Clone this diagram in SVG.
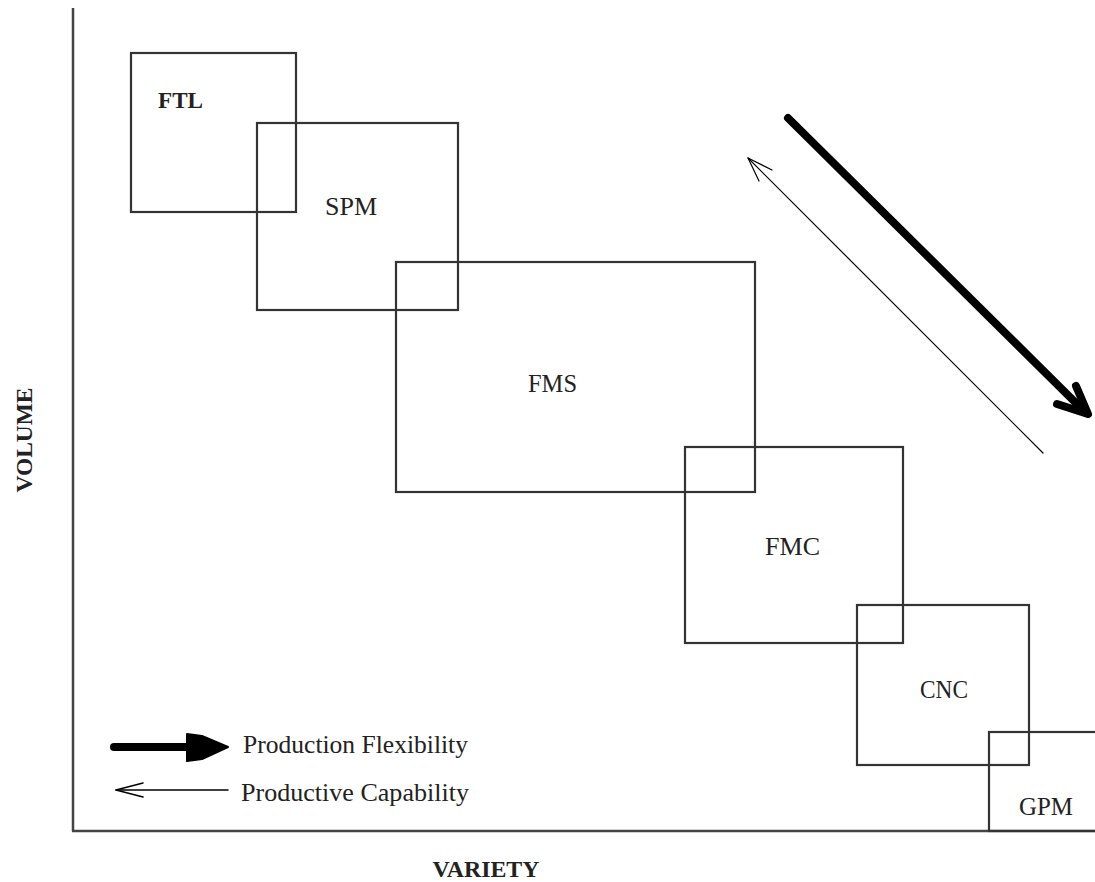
<svg xmlns="http://www.w3.org/2000/svg" width="1095" height="882" viewBox="0 0 1095 882">
<style>
.box{fill:none;stroke:#333;stroke-width:2.2}
.axis{fill:none;stroke:#444;stroke-width:2.5}
.lbl{font-family:"Liberation Serif","Times New Roman",serif;font-size:26px;fill:#222}
.b{font-weight:bold;font-size:24px}
</style>
<rect width="1095" height="882" fill="#fff"/>
<g id="axes">
<line class="axis" x1="73" y1="8" x2="73" y2="831"/>
<line class="axis" x1="72" y1="831" x2="1095" y2="831"/>
<text class="lbl b" x="486" y="877" text-anchor="middle" textLength="107" lengthAdjust="spacingAndGlyphs">VARIETY</text>
<text class="lbl b" transform="translate(32,440) rotate(-90)" text-anchor="middle" textLength="105" lengthAdjust="spacingAndGlyphs">VOLUME</text>
</g>
<g id="FTL"><rect class="box" x="131" y="53" width="165" height="159"/><text class="lbl b" x="158" y="108" textLength="45" lengthAdjust="spacingAndGlyphs">FTL</text></g>
<g id="SPM"><rect class="box" x="257" y="123" width="201" height="187"/><text class="lbl" x="325" y="215" textLength="52" lengthAdjust="spacingAndGlyphs">SPM</text></g>
<g id="FMS"><rect class="box" x="396" y="262" width="359" height="230"/><text class="lbl" x="528" y="392" textLength="49" lengthAdjust="spacingAndGlyphs">FMS</text></g>
<g id="FMC"><rect class="box" x="685" y="447" width="218" height="196"/><text class="lbl" x="765" y="555" textLength="55" lengthAdjust="spacingAndGlyphs">FMC</text></g>
<g id="CNC"><rect class="box" x="857" y="605" width="172" height="160"/><text class="lbl" x="920" y="698" textLength="48" lengthAdjust="spacingAndGlyphs">CNC</text></g>
<g id="GPM"><rect class="box" x="989" y="732" width="110" height="99"/><text class="lbl" x="1019" y="815" textLength="54" lengthAdjust="spacingAndGlyphs">GPM</text></g>
<g id="connectors" fill="none" stroke="#000" stroke-linecap="round" stroke-linejoin="round">
<line x1="788" y1="118" x2="1086" y2="413" stroke-width="8"/>
<polyline points="1076,386 1088,414 1057,404" stroke-width="8"/>
<line x1="1043" y1="453" x2="748" y2="158" stroke-width="1.2"/>
<polyline points="772,170 748,158 759,181" stroke-width="1.2"/>
<line x1="114" y1="747" x2="192" y2="747" stroke-width="8"/>
<polygon points="187,734 202,736 228,747 202,759 187,761" fill="#000" stroke-width="2"/>
<line x1="228" y1="790" x2="116" y2="790" stroke-width="1.5"/>
<polyline points="143,783 116,790 143,797" stroke-width="1.5"/>
</g>
<g id="legend">
<text class="lbl" x="243" y="753" textLength="225" lengthAdjust="spacingAndGlyphs">Production Flexibility</text>
<text class="lbl" x="241" y="801" textLength="228" lengthAdjust="spacingAndGlyphs">Productive Capability</text>
</g>
</svg>
